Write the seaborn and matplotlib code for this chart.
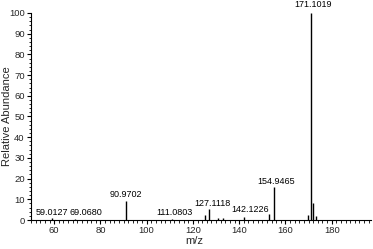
import matplotlib
matplotlib.use("Agg")
import matplotlib.pyplot as plt
from matplotlib.ticker import MultipleLocator
import seaborn as sns

# Peak data
mz = [59.0127, 69.0680, 90.9702, 111.0803, 125.2, 127.1118, 131.0, 133.0,
      142.1226, 153.0, 154.9465, 169.6, 171.1019, 172.1, 173.1]
abundance = [1.2, 0.5, 9.0, 0.4, 2.5, 5.5, 0.8, 1.0,
             1.5, 3.0, 16.0, 2.5, 100.0, 8.0, 2.0]
labeled_mz = [59.0127, 69.0680, 90.9702, 111.0803, 127.1118, 142.1226, 154.9465, 171.1019]
labeled_ab = [1.2, 0.5, 9.0, 0.4, 5.5, 1.5, 16.0, 100.0]
label_text = ["59.0127", "69.0680", "90.9702", "111.0803", "127.1118", "142.1226", "154.9465", "171.1019"]

sns.set_theme(style="ticks")
plt.rcParams["font.family"] = ["Liberation Sans", "DejaVu Sans"]

fig, ax = plt.subplots(figsize=(3.73, 2.49), dpi=100)
fig.subplots_adjust(left=31/373, right=371/373, top=1-13/249, bottom=1-220/249)

ax.vlines(mz, 0, abundance, color="black", linewidth=1.0)

# label offsets in pixels (dx, dy) to avoid overlaps, as in the reference
px = 72 / 100
offsets = [(0, 0.5), (11, 1.5), (0, 2), (2, 2), (3, 0.5), (6, 3), (2, 1), (2, 4)]
for x, y, t, (dx, dy) in zip(labeled_mz, labeled_ab, label_text, offsets):
    ax.annotate(t, (x, y), xytext=(dx * px, dy * px), textcoords="offset points",
                ha="center", va="bottom", fontsize=6.5, color="black")

ax.set_xlim(50, 197)
ax.set_ylim(0, 100)
ax.xaxis.set_major_locator(MultipleLocator(20))
ax.xaxis.set_minor_locator(MultipleLocator(2))
ax.yaxis.set_major_locator(MultipleLocator(10))
ax.yaxis.set_minor_locator(MultipleLocator(2))
ax.tick_params(axis="both", which="major", length=3, width=0.8, labelsize=6.8, pad=1.5, color="black")
ax.tick_params(axis="both", which="minor", length=1.8, width=0.6, color="black")

sns.despine(ax=ax)
for s in ("left", "bottom"):
    ax.spines[s].set_linewidth(0.8)
    ax.spines[s].set_color("black")

ax.set_xlabel("m/z", fontsize=8)
ax.set_ylabel("Relative Abundance", fontsize=8)
ax.xaxis.set_label_coords(0.48, -0.075)
ax.yaxis.set_label_coords(-0.055, 0.5)

fig.savefig("out.png", dpi=100)
